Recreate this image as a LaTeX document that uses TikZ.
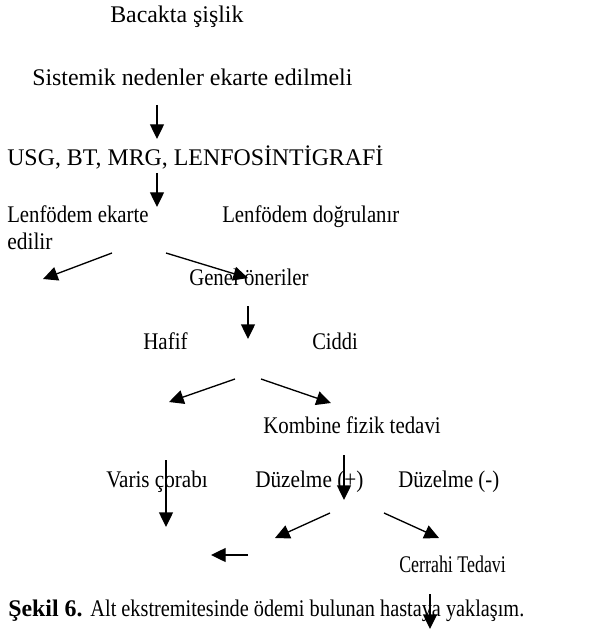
\documentclass[tikz,border=0pt]{standalone}
\usepackage{fontspec}
\setmainfont{Liberation Serif}
\usetikzlibrary{arrows.meta}
\newcommand{\squeeze}[2]{\scalebox{#1}[1]{#2}}

\begin{document}
\begin{tikzpicture}[x=0.75pt,y=-0.75pt,
  lbl/.style={anchor=base west,inner sep=0pt,font=\fontsize{17.9}{21}\selectfont},
  arr/.style={line width=1pt,-{Triangle[length=11pt,width=10.5pt]}}]
  \useasboundingbox (0,0) rectangle (600,630);
  % texts
  \node[lbl] (bacak) at (110,23) {Bacakta şişlik};
  \node[lbl] (sistem) at (32,86) {Sistemik nedenler ekarte edilmeli};
  \node[lbl] (usg) at (7,166) {USG, BT, MRG, LENFOSİNTİGRAFİ};
  \node[lbl] (ekarte) at (7,223) {\squeeze{0.87}{Lenfödem ekarte}};
  \node[lbl] (edilir) at (7,250) {\squeeze{0.9}{edilir}};
  \node[lbl] (dogru) at (222,223) {\squeeze{0.87}{Lenfödem doğrulanır}};
  \node[lbl] (genel) at (189,286) {\squeeze{0.87}{Genel öneriler}};
  \node[lbl] (hafif) at (143,349) {\squeeze{0.88}{Hafif}};
  \node[lbl] (ciddi) at (312,349) {\squeeze{0.86}{Ciddi}};
  \node[lbl] (kombine) at (263,433) {\squeeze{0.875}{Kombine fizik tedavi}};
  \node[lbl] (varis) at (106,487) {\squeeze{0.885}{Varis çorabı}};
  \node[lbl] (duzarti) at (255,487) {\squeeze{0.89}{Düzelme (+)}};
  \node[lbl] (duzeksi) at (398,487) {\squeeze{0.87}{Düzelme (-)}};
  \node[lbl] (cerrahi) at (399,572) {\squeeze{0.75}{Cerrahi Tedavi}};
  \node[lbl] (sekil) at (8,616) {\textbf{Şekil 6.} \squeeze{0.85}{Alt ekstremitesinde ödemi bulunan hastaya yaklaşım.}};
  % arrow ends
  \coordinate (a1) at (157,105);  \coordinate (b1) at (157,139);
  \coordinate (a2) at (157,173);  \coordinate (b2) at (157,207);
  \coordinate (a3) at (112,253);  \coordinate (b3) at (43,279);
  \coordinate (a4) at (166,253);  \coordinate (b4) at (248,278);
  \coordinate (a5) at (248,306);  \coordinate (b5) at (248,339);
  \coordinate (a6) at (235,379);  \coordinate (b6) at (169,402);
  \coordinate (a7) at (261,379);  \coordinate (b7) at (331,403);
  \coordinate (a8) at (166,460);  \coordinate (b8) at (166,527);
  \coordinate (a9) at (344,455);  \coordinate (b9) at (344,500);
  \coordinate (a10) at (330,513); \coordinate (b10) at (275,538);
  \coordinate (a11) at (384,513); \coordinate (b11) at (439,538);
  \coordinate (a12) at (248,555); \coordinate (b12) at (211,555);
  \coordinate (a13) at (430,594); \coordinate (b13) at (430,629);
  \foreach \i in {1,...,13}
    \draw[arr] (a\i) -- (b\i);
\end{tikzpicture}
\end{document}
